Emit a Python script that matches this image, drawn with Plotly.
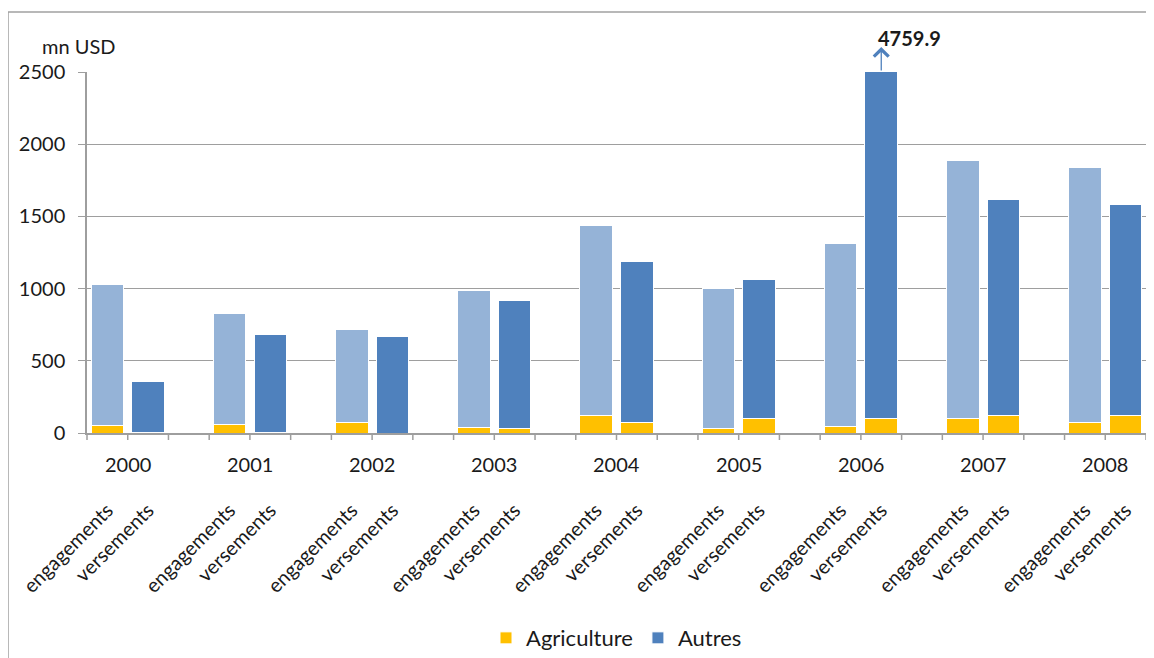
import plotly.graph_objects as go

years = ["2000", "2001", "2002", "2003", "2004", "2005", "2006", "2007", "2008"]
eng_total = [1025, 831, 720, 990, 1440, 1000, 1310, 1885, 1840]
eng_agri = [50, 60, 72, 38, 120, 30, 48, 97, 76]
vers_total = [360, 680, 670, 920, 1185, 1060, 4759.9, 1620, 1585]
vers_agri = [3, 3, 0, 28, 70, 97, 97, 118, 118]
sub_labels = ["engagements", "versements"]
y_max = 2500
clipped_label = "4759.9"

YELLOW = "#FFC000"
LIGHT = "#95B3D7"
DARK = "#4F81BD"
TXT = "#1a1a1a"
GRID = "#9e9e9e"
FONT = "Lato"
ZW = "\u200b"  # zero-width space keeps repeated labels unique

# category slots: engagements, versements, gap (no gap after last year)
cats = []
eng_cat, vers_cat = {}, {}
for i, y in enumerate(years):
    eng_cat[y] = sub_labels[0] + ZW * i
    vers_cat[y] = sub_labels[1] + ZW * i
    cats += [eng_cat[y], vers_cat[y]]
    if i < len(years) - 1:
        cats.append(" " * (i + 1))

ex = [eng_cat[y] for y in years]
vx = [vers_cat[y] for y in years]
eng_aut = [t - a for t, a in zip(eng_total, eng_agri)]
vers_aut = [t - a for t, a in zip(vers_total, vers_agri)]

fig = go.Figure()
line = dict(color="white", width=1)
fig.add_trace(go.Bar(x=ex + vx, y=eng_agri + vers_agri, name="Agriculture",
                     marker=dict(color=YELLOW, line=line)))
fig.add_trace(go.Bar(x=vx, y=vers_aut, name="Autres",
                     marker=dict(color=DARK, line=line)))
fig.add_trace(go.Bar(x=ex, y=eng_aut, name="Autres", showlegend=False,
                     marker=dict(color=LIGHT, line=line)))

n = len(cats)

annotations = []
for y in years:
    annotations.append(dict(x=cats.index(eng_cat[y]) + 0.5, xref="x", y=0, yref="paper",
                            yshift=-31, text=y, showarrow=False, yanchor="middle",
                            font=dict(size=20, color=TXT, family=FONT)))
annotations.append(dict(x=vers_cat["2006"], y=y_max, xref="x", yref="y", ax=0, ay=25,
                        yshift=25, text="", showarrow=True, arrowhead=4,
                        arrowsize=2.2, arrowwidth=1.3, arrowcolor=DARK))
annotations.append(dict(x=vers_cat["2006"], y=y_max, xref="x", yref="y", xshift=28, yshift=34,
                        text="<b>" + clipped_label + "</b>", showarrow=False,
                        font=dict(size=20, color=TXT, family=FONT)))
annotations.append(dict(x=0, y=1, xref="paper", yref="paper", xshift=-47, yshift=26,
                        xanchor="left", yanchor="middle", text="mn USD", showarrow=False,
                        font=dict(size=20, color=TXT, family=FONT)))

shapes = [
    dict(type="line", xref="paper", yref="paper", xsizemode="pixel", ysizemode="pixel",
         xanchor=0, yanchor=1, x0=-79, x1=1100, y0=60, y1=60,
         line=dict(color="#a0a0a0", width=1.5)),
    dict(type="line", xref="paper", yref="paper", xsizemode="pixel", ysizemode="pixel",
         xanchor=0, yanchor=1, x0=-79, x1=-79, y0=60, y1=-700,
         line=dict(color="#a0a0a0", width=1.5)),
]
# tick marks at the boundaries between category slots (paper fraction of the x span)
for k in range(n + 1):
    frac = k / n
    shapes.append(dict(type="line", xref="paper", yref="paper", ysizemode="pixel", yanchor=0,
                       x0=frac, x1=frac, y0=0, y1=-7, line=dict(color=GRID, width=1.5)))

fig.update_layout(
    width=1154, height=658,
    margin=dict(l=79, r=16, t=64, b=233, autoexpand=False),
    paper_bgcolor="white", plot_bgcolor="white",
    barmode="stack", bargap=0.2,
    font=dict(family=FONT, size=18, color=TXT),
    showlegend=True,
    legend=dict(orientation="h", x=0.5, xanchor="center", y=-0.568, yanchor="middle",
                font=dict(size=22, color=TXT, family=FONT), traceorder="normal"),
    annotations=annotations,
    shapes=shapes,
    xaxis=dict(type="category", categoryorder="array", categoryarray=cats,
               range=[-0.5, n - 0.5], automargin=False,
               tickmode="linear", tick0=0, dtick=1, ticks="",
               tickangle=-45, ticklabelstandoff=56,
               showline=True, linecolor=GRID, linewidth=1.5, showgrid=False,
               tickfont=dict(size=20, color=TXT, family=FONT)),
    yaxis=dict(range=[0, y_max], dtick=500, showgrid=True, gridcolor=GRID, gridwidth=1.3,
               showline=True, linecolor=GRID, linewidth=1.5, ticks="outside", ticklen=7,
               tickcolor=GRID, ticklabelstandoff=9, zeroline=False, automargin=False,
               tickfont=dict(size=20, color=TXT, family=FONT)),
)

fig.write_html("out.html")
